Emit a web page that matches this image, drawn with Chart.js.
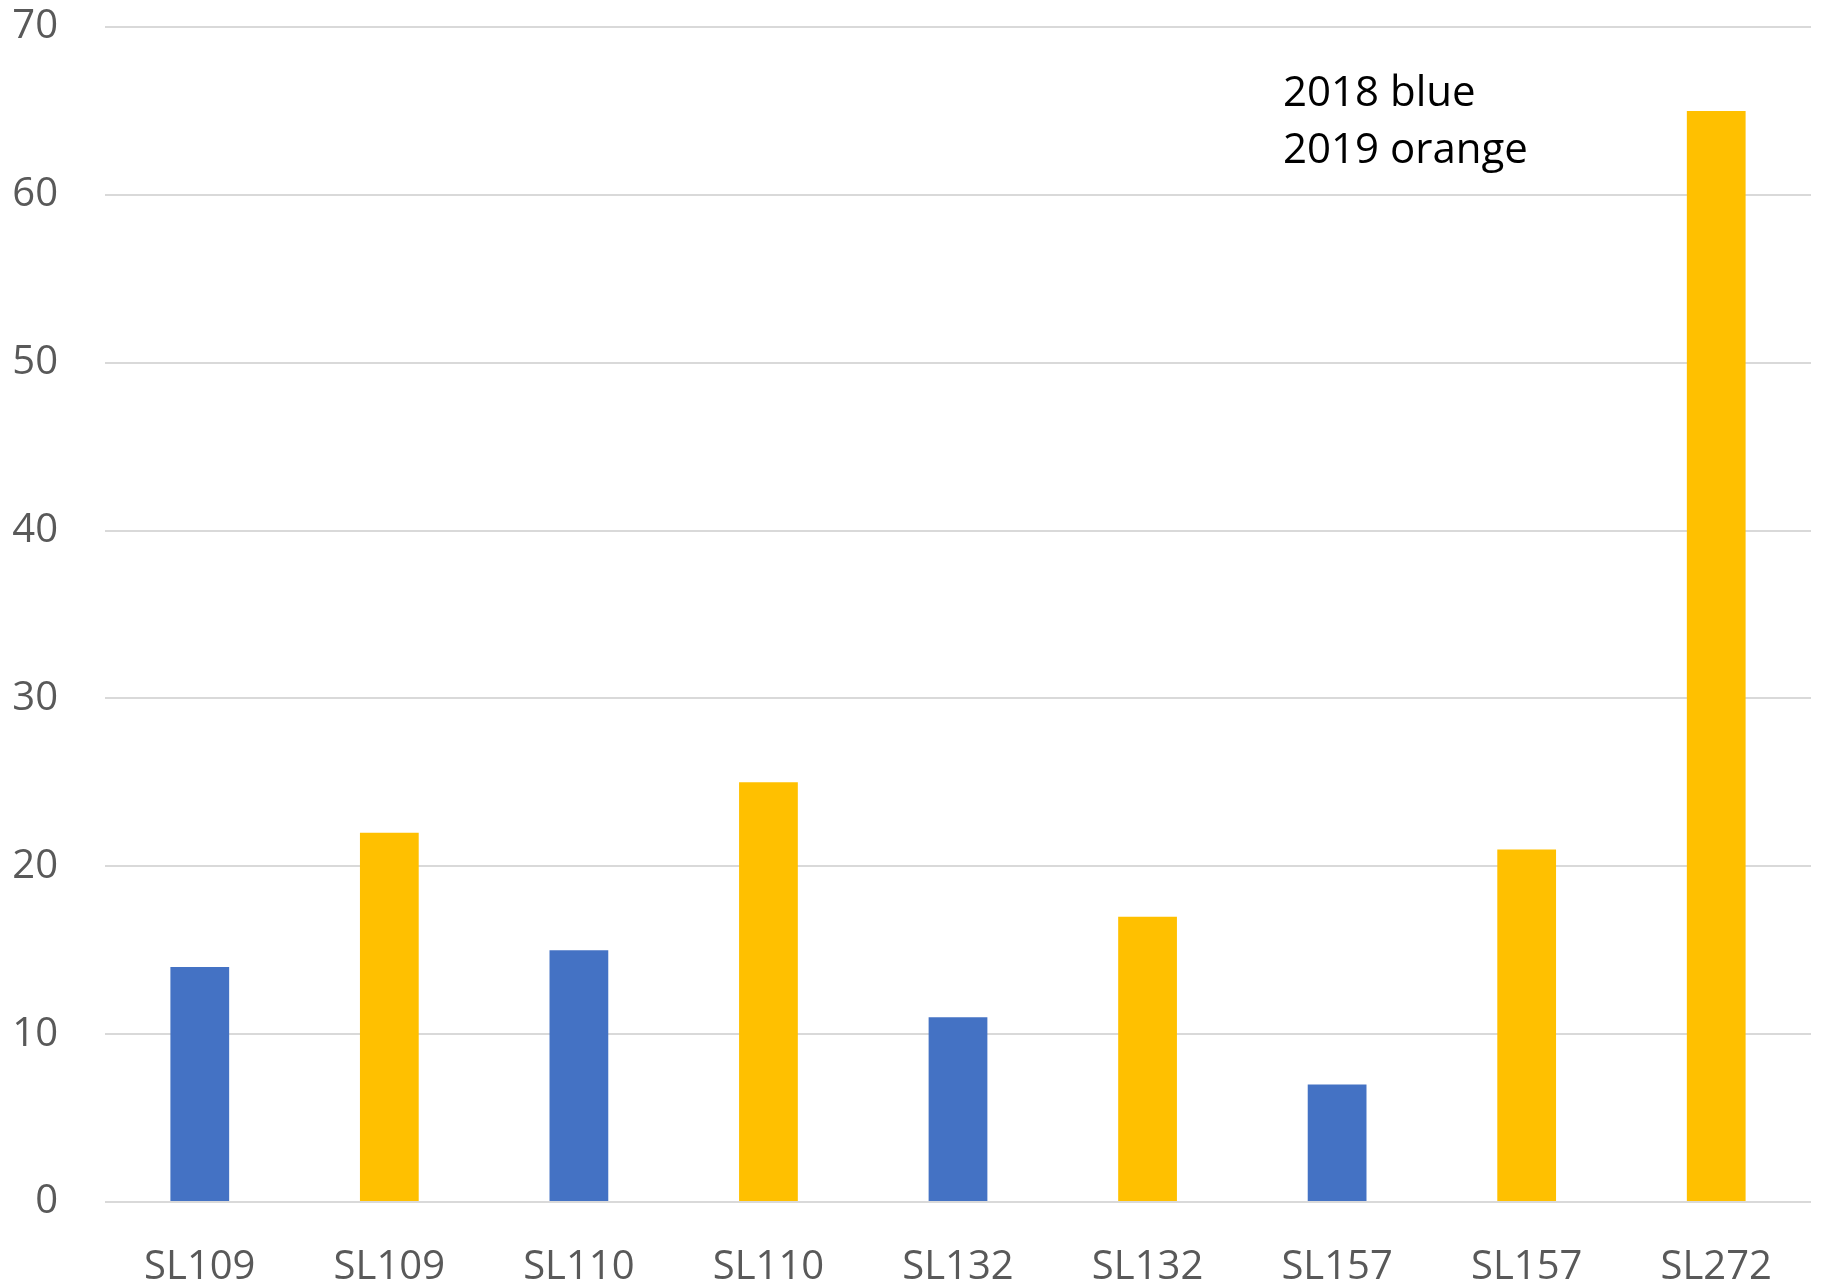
<!DOCTYPE html>
<html>
<head>
<meta charset="utf-8">
<script src="https://cdn.jsdelivr.net/npm/chart.js@4"></script>
<style>
  body { margin: 0; background: #fff; }
  #wrap { width: 1826px; height: 1284px; }
</style>
</head>
<body>
<div id="wrap"><canvas id="grafica" width="1826" height="1284"></canvas></div>
<script>
// datos
const etiquetas = ["SL109", "SL109", "SL110", "SL110", "SL132", "SL132", "SL157", "SL157", "SL272"];
const valores = [14, 22, 15, 25, 11, 17, 7, 21, 65];
const anios = [2018, 2019, 2018, 2019, 2018, 2019, 2018, 2019, 2019];
const ticksY = [0, 10, 20, 30, 40, 50, 60, 70];
const notas = ["2018 blue", "2019 orange"];

const colorAnio = { 2018: "#4472C4", 2019: "#FFC000" };

// texto de la nota arriba a la derecha
const notaPlugin = {
    id: "nota",
    afterDraw(chart) {
        const ctx = chart.ctx;
        ctx.save();
        ctx.font = "42px 'Open Sans'";
        ctx.fillStyle = "#000";
        ctx.textBaseline = "middle";
        ctx.textAlign = "left";
        notas.forEach((t, i) => ctx.fillText(t, 1283, 94 + i * 57));
        ctx.restore();
    }
};

new Chart(document.getElementById("grafica").getContext("2d"), {
    type: "bar",
    data: {
        labels: etiquetas,
        datasets: [{
            data: valores,
            backgroundColor: anios.map(a => colorAnio[a]),
            borderWidth: 0,
            categoryPercentage: 1,
            barPercentage: 0.31
        }]
    },
    options: {
        responsive: false,
        animation: false,
        layout: { padding: { top: 0, right: 15, bottom: 0, left: 0 } },
        plugins: {
            legend: { display: false },
            tooltip: { enabled: false }
        },
        scales: {
            x: {
                offset: true,
                grid: { display: false },
                border: { display: false },
                ticks: {
                    color: "#595959",
                    font: { family: "'Open Sans'", size: 40 },
                    padding: 34,
                    maxRotation: 0,
                    autoSkip: false
                },
                afterFit(scale) { scale.height = 82; }
            },
            y: {
                min: 0,
                max: 70,
                afterBuildTicks(scale) { scale.ticks = ticksY.map(v => ({ value: v })); },
                grid: { color: "#D9D9D9", lineWidth: 2, drawTicks: false },
                border: { display: false },
                ticks: {
                    color: "#595959",
                    font: { family: "'Open Sans'", size: 40 },
                    padding: 47
                },
                afterFit(scale) {
                    scale.width = 105;
                    scale.paddingTop = 27;
                    scale.paddingBottom = 0;
                }
            }
        }
    },
    plugins: [notaPlugin]
});
</script>
</body>
</html>
